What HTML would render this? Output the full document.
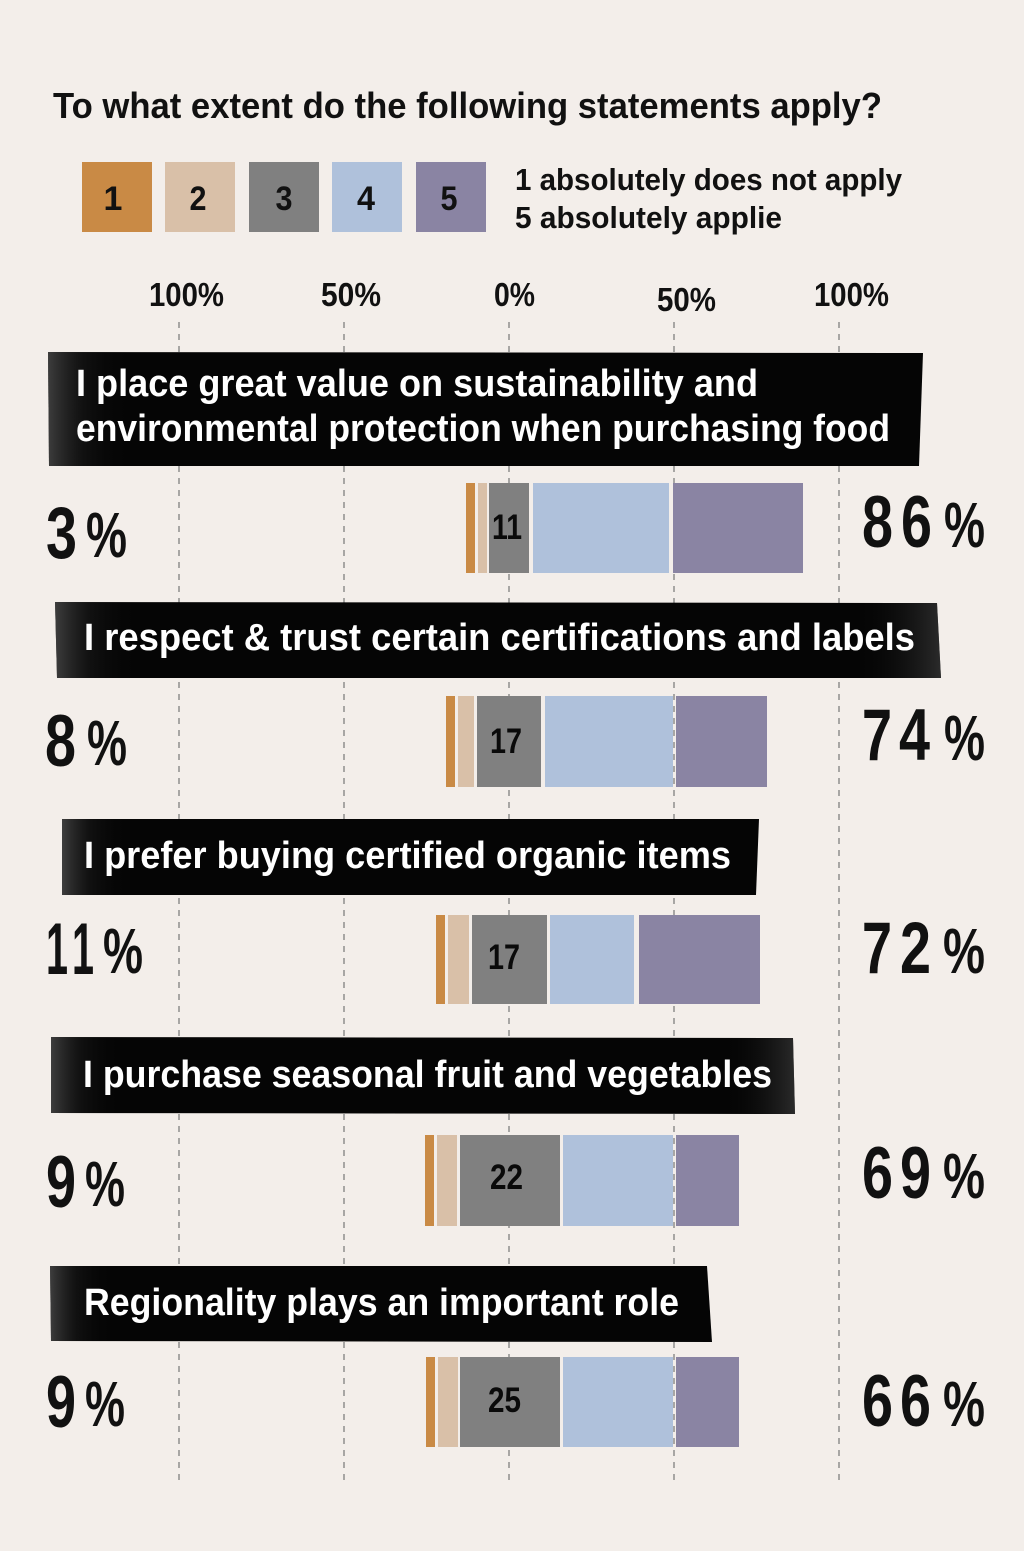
<!DOCTYPE html>
<html>
<head>
<meta charset="utf-8">
<style>
  html, body { margin:0; padding:0; background:#f3eeea; }
  svg { display:block; }
  text { font-family: "Liberation Sans Narrow", "Liberation Sans", sans-serif; font-weight:bold; }
  .w { font-family: "Liberation Sans", sans-serif; }
</style>
</head>
<body>
<svg width="1024" height="1551" viewBox="0 0 1024 1551" xmlns="http://www.w3.org/2000/svg">
  <defs>
    <linearGradient id="gl" x1="0" x2="1" y1="0" y2="0">
      <stop offset="0" stop-color="#555" stop-opacity="0.7"/>
      <stop offset="0.04" stop-color="#222" stop-opacity="0.4"/>
      <stop offset="0.1" stop-color="#000" stop-opacity="0"/>
      <stop offset="1" stop-color="#000" stop-opacity="0"/>
    </linearGradient>
    <linearGradient id="gr" x1="0" x2="1" y1="0" y2="0">
      <stop offset="0" stop-color="#000" stop-opacity="0"/>
      <stop offset="0.9" stop-color="#000" stop-opacity="0"/>
      <stop offset="1" stop-color="#444" stop-opacity="0.6"/>
    </linearGradient>
  </defs>
  <rect x="0" y="0" width="1024" height="1551" fill="#f3eeea"/>

  <!-- Title -->
  <text x="53" y="118" font-size="36" fill="#111" textLength="829" lengthAdjust="spacingAndGlyphs">To what extent do the following statements apply?</text>

  <!-- Legend -->
  <rect x="82" y="162" width="70" height="70" fill="#c98a45"/>
  <rect x="165" y="162" width="70" height="70" fill="#d9c0a8"/>
  <rect x="249" y="162" width="70" height="70" fill="#808080"/>
  <rect x="332" y="162" width="70" height="70" fill="#afc1db"/>
  <rect x="416" y="162" width="70" height="70" fill="#8a84a3"/>
  <g class="w" font-size="34" fill="#111" text-anchor="middle">
    <text class="w" x="113" y="210">1</text>
    <text class="w" x="198" y="210" textLength="17" lengthAdjust="spacingAndGlyphs">2</text>
    <text class="w" x="284" y="210" textLength="17" lengthAdjust="spacingAndGlyphs">3</text>
    <text class="w" x="366" y="210" textLength="18" lengthAdjust="spacingAndGlyphs">4</text>
    <text class="w" x="449" y="210" textLength="17" lengthAdjust="spacingAndGlyphs">5</text>
  </g>
  <text x="515" y="190" font-size="31" fill="#111" textLength="387" lengthAdjust="spacingAndGlyphs">1 absolutely does not apply</text>
  <text x="515" y="228" font-size="31" fill="#111" textLength="267" lengthAdjust="spacingAndGlyphs">5 absolutely applie</text>

  <!-- Axis labels -->
  <g font-size="33" fill="#111">
    <text x="149" y="306" textLength="75" lengthAdjust="spacingAndGlyphs">100%</text>
    <text x="321" y="306" textLength="60" lengthAdjust="spacingAndGlyphs">50%</text>
    <text x="494" y="306" textLength="41" lengthAdjust="spacingAndGlyphs">0%</text>
    <text x="657" y="311" textLength="59" lengthAdjust="spacingAndGlyphs">50%</text>
    <text x="814" y="306" textLength="75" lengthAdjust="spacingAndGlyphs">100%</text>
  </g>

  <!-- Gridlines -->
  <g stroke="#7f7f7f" stroke-width="1.3" stroke-dasharray="6 6">
    <line x1="179" y1="322" x2="179" y2="1480"/>
    <line x1="344" y1="322" x2="344" y2="1480"/>
    <line x1="509" y1="322" x2="509" y2="1480"/>
    <line x1="674" y1="322" x2="674" y2="1480"/>
    <line x1="839" y1="322" x2="839" y2="1480"/>
  </g>

  <!-- Banners -->
  <polygon points="48,352 923,353 919,466 49,466" fill="#050505"/>
  <polygon points="48,352 923,353 919,466 49,466" fill="url(#gl)"/>
  <polygon points="55,602 937,603 941,678 57,678" fill="#050505"/>
  <polygon points="55,602 937,603 941,678 57,678" fill="url(#gl)"/>
  <polygon points="55,602 937,603 941,678 57,678" fill="url(#gr)"/>
  <polygon points="62,819 759,819 756,895 62,895" fill="#050505"/>
  <polygon points="62,819 759,819 756,895 62,895" fill="url(#gl)"/>
  <polygon points="51,1037 793,1038 795,1114 51,1113" fill="#050505"/>
  <polygon points="51,1037 793,1038 795,1114 51,1113" fill="url(#gl)"/>
  <polygon points="51,1037 793,1038 795,1114 51,1113" fill="url(#gr)"/>
  <polygon points="50,1266 707,1266 712,1342 51,1341" fill="#050505"/>
  <polygon points="50,1266 707,1266 712,1342 51,1341" fill="url(#gl)"/>

  <g font-size="38" fill="#ffffff">
    <text x="76" y="396" textLength="682" lengthAdjust="spacingAndGlyphs">I place great value on sustainability and</text>
    <text x="76" y="441" textLength="814" lengthAdjust="spacingAndGlyphs">environmental protection when purchasing food</text>
    <text x="84" y="650" textLength="831" lengthAdjust="spacingAndGlyphs">I respect &amp; trust certain certifications and labels</text>
    <text x="84" y="868" textLength="647" lengthAdjust="spacingAndGlyphs">I prefer buying certified organic items</text>
    <text x="83" y="1087" textLength="689" lengthAdjust="spacingAndGlyphs">I purchase seasonal fruit and vegetables</text>
    <text x="84" y="1315" textLength="595" lengthAdjust="spacingAndGlyphs">Regionality plays an important role</text>
  </g>

  <!-- Bars -->
  <rect x="466" y="483" width="9" height="90" fill="#c98a45"/>
  <rect x="478" y="483" width="9" height="90" fill="#d9c0a8"/>
  <rect x="489" y="483" width="40" height="90" fill="#808080"/>
  <rect x="533" y="483" width="136" height="90" fill="#afc1db"/>
  <rect x="673" y="483" width="130" height="90" fill="#8a84a3"/>

  <rect x="446" y="696" width="9" height="91" fill="#c98a45"/>
  <rect x="458" y="696" width="16" height="91" fill="#d9c0a8"/>
  <rect x="477" y="696" width="64" height="91" fill="#808080"/>
  <rect x="545" y="696" width="128" height="91" fill="#afc1db"/>
  <rect x="676" y="696" width="91" height="91" fill="#8a84a3"/>

  <rect x="436" y="915" width="9" height="89" fill="#c98a45"/>
  <rect x="448" y="915" width="21" height="89" fill="#d9c0a8"/>
  <rect x="472" y="915" width="75" height="89" fill="#808080"/>
  <rect x="550" y="915" width="84" height="89" fill="#afc1db"/>
  <rect x="639" y="915" width="121" height="89" fill="#8a84a3"/>

  <rect x="425" y="1135" width="9" height="91" fill="#c98a45"/>
  <rect x="437" y="1135" width="20" height="91" fill="#d9c0a8"/>
  <rect x="460" y="1135" width="100" height="91" fill="#808080"/>
  <rect x="563" y="1135" width="110" height="91" fill="#afc1db"/>
  <rect x="676" y="1135" width="63" height="91" fill="#8a84a3"/>

  <rect x="426" y="1357" width="9" height="90" fill="#c98a45"/>
  <rect x="438" y="1357" width="20" height="90" fill="#d9c0a8"/>
  <rect x="460" y="1357" width="100" height="90" fill="#808080"/>
  <rect x="563" y="1357" width="110" height="90" fill="#afc1db"/>
  <rect x="676" y="1357" width="63" height="90" fill="#8a84a3"/>

  <!-- Bar labels -->
  <g font-size="35" fill="#0a0a0a">
    <text class="w" x="492" y="539" textLength="30" lengthAdjust="spacingAndGlyphs">11</text>
    <text class="w" x="490" y="753" textLength="32" lengthAdjust="spacingAndGlyphs">17</text>
    <text class="w" x="488" y="969" textLength="32" lengthAdjust="spacingAndGlyphs">17</text>
    <text class="w" x="490" y="1189" textLength="33" lengthAdjust="spacingAndGlyphs">22</text>
    <text class="w" x="488" y="1412" textLength="33" lengthAdjust="spacingAndGlyphs">25</text>
  </g>

  <!-- Left percentages -->
  <g fill="#111">
    <text x="46" y="558" font-size="73" textLength="31" lengthAdjust="spacingAndGlyphs">3</text>
    <text x="86" y="557" font-size="64" textLength="41" lengthAdjust="spacingAndGlyphs">%</text>

    <text x="45" y="766" font-size="73" textLength="31" lengthAdjust="spacingAndGlyphs">8</text>
    <text x="87" y="765" font-size="64" textLength="40" lengthAdjust="spacingAndGlyphs">%</text>

    <text x="46" y="974" font-size="73" textLength="22" lengthAdjust="spacingAndGlyphs">1</text>
    <text x="72" y="974" font-size="73" textLength="22" lengthAdjust="spacingAndGlyphs">1</text>
    <text x="103" y="973" font-size="64" textLength="40" lengthAdjust="spacingAndGlyphs">%</text>

    <text x="46" y="1207" font-size="73" textLength="30" lengthAdjust="spacingAndGlyphs">9</text>
    <text x="85" y="1206" font-size="64" textLength="40" lengthAdjust="spacingAndGlyphs">%</text>

    <text x="46" y="1427" font-size="73" textLength="30" lengthAdjust="spacingAndGlyphs">9</text>
    <text x="85" y="1426" font-size="64" textLength="40" lengthAdjust="spacingAndGlyphs">%</text>
  </g>

  <!-- Right percentages -->
  <g fill="#111">
    <text x="862" y="547" font-size="73" textLength="31" lengthAdjust="spacingAndGlyphs">8</text>
    <text x="901" y="547" font-size="73" textLength="31" lengthAdjust="spacingAndGlyphs">6</text>
    <text x="944" y="547" font-size="64" textLength="41" lengthAdjust="spacingAndGlyphs">%</text>

    <text x="862" y="760" font-size="73" textLength="30" lengthAdjust="spacingAndGlyphs">7</text>
    <text x="899" y="760" font-size="73" textLength="31" lengthAdjust="spacingAndGlyphs">4</text>
    <text x="944" y="760" font-size="64" textLength="41" lengthAdjust="spacingAndGlyphs">%</text>

    <text x="862" y="973" font-size="73" textLength="30" lengthAdjust="spacingAndGlyphs">7</text>
    <text x="900" y="973" font-size="73" textLength="31" lengthAdjust="spacingAndGlyphs">2</text>
    <text x="943" y="973" font-size="64" textLength="42" lengthAdjust="spacingAndGlyphs">%</text>

    <text x="862" y="1198" font-size="73" textLength="31" lengthAdjust="spacingAndGlyphs">6</text>
    <text x="900" y="1198" font-size="73" textLength="31" lengthAdjust="spacingAndGlyphs">9</text>
    <text x="943" y="1198" font-size="64" textLength="42" lengthAdjust="spacingAndGlyphs">%</text>

    <text x="862" y="1426" font-size="73" textLength="31" lengthAdjust="spacingAndGlyphs">6</text>
    <text x="900" y="1426" font-size="73" textLength="31" lengthAdjust="spacingAndGlyphs">6</text>
    <text x="943" y="1426" font-size="64" textLength="42" lengthAdjust="spacingAndGlyphs">%</text>
  </g>
</svg>
</body>
</html>
